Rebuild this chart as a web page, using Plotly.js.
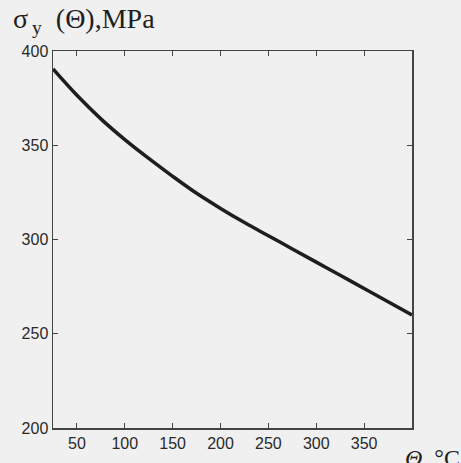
<!DOCTYPE html>
<html>
<head>
<meta charset="utf-8">
<script src="https://cdn.plot.ly/plotly-3.0.1.min.js"></script>
<style>html,body{margin:0;padding:0;background:#f0f0f0;}</style>
</head>
<body>
<div id="chart" style="width:461px;height:463px;"></div>
<script>
// Temperature (°C)
const theta = [25, 50, 75, 100, 125, 150, 175, 200, 225, 250, 275, 300, 325, 350, 375, 400];
// Yield stress (MPa)
const sigmaY = [390.5, 376.5, 364, 353, 343, 333.5, 324.5, 316.5, 309, 302, 295, 288, 281, 274, 267, 260];
const xTicks = [50, 100, 150, 200, 250, 300, 350];
const yTicks = [200, 250, 300, 350, 400];

const tickFont = {family: 'Liberation Sans, Arial, sans-serif', size: 16, color: '#2a2a2a'};

Plotly.newPlot('chart', [{
  x: theta, y: sigmaY, type: 'scatter', mode: 'lines',
  line: {color: '#1e1e1e', width: 3.5, shape: 'spline'}
}], {
  width: 461, height: 463,
  margin: {l: 53, r: 49, t: 51, b: 35},
  paper_bgcolor: '#f0f0f0', plot_bgcolor: '#f0f0f0',
  showlegend: false,
  xaxis: {
    range: [25, 400], tickvals: xTicks, ticktext: xTicks.map(String),
    ticks: 'inside', ticklen: 5, tickcolor: '#444', mirror: 'allticks',
    showline: true, linecolor: '#444', linewidth: 1.5, showgrid: false, zeroline: false,
    tickfont: tickFont
  },
  yaxis: {
    range: [200, 400], tickvals: yTicks, ticktext: yTicks.map(String),
    ticks: 'inside', ticklen: 5, tickcolor: '#444', mirror: 'allticks',
    showline: true, linecolor: '#444', linewidth: 1.5, showgrid: false, zeroline: false,
    tickfont: tickFont
  },
  annotations: [
    {text: 'σ<sub>\u2009y</sub>\u2002(Θ),MPa', xref: 'paper', yref: 'paper', x: -0.118, y: 1.03,
     xanchor: 'left', yanchor: 'bottom', showarrow: false,
     font: {family: 'Liberation Serif, Times New Roman, serif', size: 28, color: '#1e1e1e'}},
    {text: '<i>Θ</i>, °C', xref: 'paper', yref: 'paper', x: 0.975, y: -0.04,
     xanchor: 'left', yanchor: 'top', showarrow: false,
     font: {family: 'Liberation Serif, Times New Roman, serif', size: 24, color: '#1e1e1e'}}
  ]
}, {displayModeBar: false, staticPlot: true});
</script>
</body>
</html>
